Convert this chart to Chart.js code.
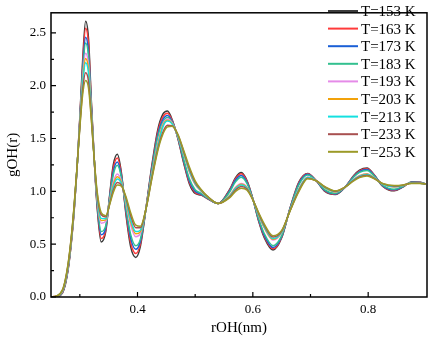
<!DOCTYPE html>
<html>
<head>
<meta charset="utf-8">
<script src="https://cdn.jsdelivr.net/npm/chart.js@4/dist/chart.umd.min.js"></script>
<style>
body { margin: 0; background: #fff; }
#wrap { width: 429px; height: 341px; }
</style>
</head>
<body>
<div id="wrap"><canvas id="gohChart"></canvas></div>
<script>
let rOH = [0.25, 0.26, 0.27, 0.275, 0.28, 0.285, 0.29, 0.295, 0.30, 0.305, 0.31, 0.315, 0.32, 0.325, 0.33,
	0.337, 0.345, 0.352, 0.358, 0.365, 0.372, 0.38, 0.388, 0.397, 0.405, 0.415, 0.425, 0.435,
	0.444, 0.452, 0.46, 0.47, 0.48, 0.49, 0.50, 0.51, 0.52, 0.54, 0.56, 0.57, 0.58, 0.59, 0.60,
	0.61, 0.62, 0.635, 0.65, 0.665, 0.68, 0.695, 0.71, 0.725, 0.743, 0.76, 0.775, 0.785, 0.798,
	0.81, 0.825, 0.845, 0.86, 0.875, 0.89, 0.90];

let g153 = [0, 0.003, 0.04, 0.12, 0.27, 0.5, 0.8, 1.2, 1.7, 2.25, 2.61, 2.45, 1.85, 1.3, 0.85,
	0.52, 0.62, 0.98, 1.25, 1.35, 1.18, 0.78, 0.48, 0.375, 0.48, 0.85, 1.25, 1.58,
	1.73, 1.76, 1.68, 1.50, 1.27, 1.07, 0.98, 0.965, 0.935, 0.885, 1.02, 1.13, 1.178, 1.10, 0.93,
	0.72, 0.56, 0.445, 0.56, 0.85, 1.09, 1.17, 1.10, 1.0, 0.97, 1.04, 1.15, 1.2, 1.22,
	1.16, 1.05, 1.005, 1.04, 1.088, 1.085, 1.07];
let g163 = [0, 0.004, 0.044, 0.126, 0.277, 0.507, 0.807, 1.2, 1.688, 2.21, 2.543, 2.394, 1.828, 1.3, 0.868,
	0.554, 0.638, 0.968, 1.219, 1.315, 1.164, 0.80, 0.518, 0.412, 0.503, 0.849, 1.234, 1.556,
	1.705, 1.74, 1.672, 1.505, 1.28, 1.083, 0.99, 0.969, 0.937, 0.885, 1.014, 1.12, 1.166, 1.093, 0.929,
	0.726, 0.57, 0.456, 0.566, 0.848, 1.083, 1.166, 1.10, 1.004, 0.973, 1.04, 1.146, 1.194, 1.214,
	1.157, 1.052, 1.009, 1.042, 1.087, 1.084, 1.07];
let g173 = [0.001, 0.005, 0.048, 0.134, 0.286, 0.516, 0.816, 1.205, 1.673, 2.161, 2.459, 2.323, 1.801, 1.3, 0.89,
	0.59, 0.658, 0.955, 1.185, 1.277, 1.147, 0.823, 0.56, 0.451, 0.528, 0.847, 1.217, 1.53,
	1.679, 1.719, 1.662, 1.511, 1.292, 1.099, 1.002, 0.975, 0.94, 0.885, 1.006, 1.107, 1.151, 1.084, 0.928,
	0.734, 0.583, 0.469, 0.573, 0.845, 1.074, 1.161, 1.10, 1.008, 0.976, 1.04, 1.141, 1.187, 1.206,
	1.153, 1.055, 1.014, 1.044, 1.086, 1.083, 1.07];
let g183 = [0.001, 0.006, 0.051, 0.139, 0.292, 0.522, 0.822, 1.207, 1.663, 2.128, 2.403, 2.276, 1.783, 1.3, 0.906,
	0.621, 0.674, 0.944, 1.156, 1.246, 1.133, 0.841, 0.595, 0.485, 0.548, 0.846, 1.203, 1.508,
	1.654, 1.70, 1.654, 1.516, 1.306, 1.118, 1.016, 0.982, 0.943, 0.885, 0.996, 1.091, 1.134, 1.073, 0.927,
	0.744, 0.599, 0.486, 0.581, 0.841, 1.063, 1.155, 1.10, 1.014, 0.981, 1.04, 1.135, 1.179, 1.197,
	1.148, 1.058, 1.02, 1.046, 1.084, 1.082, 1.07];
let g193 = [0.001, 0.007, 0.056, 0.147, 0.302, 0.532, 0.832, 1.211, 1.646, 2.072, 2.308, 2.196, 1.753, 1.3, 0.931,
	0.699, 0.716, 0.916, 1.084, 1.164, 1.097, 0.889, 0.685, 0.57, 0.602, 0.844, 1.167, 1.452,
	1.635, 1.685, 1.647, 1.52, 1.354, 1.182, 1.064, 1.004, 0.953, 0.885, 0.964, 1.039, 1.074, 1.037, 0.923,
	0.776, 0.651, 0.54, 0.609, 0.829, 1.027, 1.135, 1.10, 1.032, 0.995, 1.04, 1.115, 1.151, 1.167,
	1.132, 1.068, 1.04, 1.054, 1.079, 1.078, 1.07];
let g203 = [0.001, 0.007, 0.059, 0.152, 0.308, 0.538, 0.838, 1.213, 1.637, 2.042, 2.257, 2.154, 1.737, 1.3, 0.945,
	0.724, 0.73, 0.907, 1.06, 1.138, 1.085, 0.904, 0.714, 0.598, 0.619, 0.843, 1.155, 1.434,
	1.622, 1.674, 1.643, 1.523, 1.36, 1.19, 1.07, 1.006, 0.954, 0.885, 0.96, 1.032, 1.067, 1.032, 0.922,
	0.78, 0.658, 0.546, 0.613, 0.827, 1.022, 1.132, 1.10, 1.034, 0.996, 1.04, 1.112, 1.147, 1.164,
	1.13, 1.069, 1.043, 1.055, 1.078, 1.077, 1.07];
let g213 = [0.001, 0.008, 0.061, 0.155, 0.312, 0.542, 0.842, 1.214, 1.63, 2.019, 2.218, 2.121, 1.724, 1.3, 0.955,
	0.744, 0.74, 0.90, 1.042, 1.118, 1.076, 0.916, 0.736, 0.619, 0.632, 0.842, 1.146, 1.42,
	1.61, 1.665, 1.639, 1.525, 1.366, 1.198, 1.076, 1.009, 0.955, 0.885, 0.956, 1.026, 1.06, 1.028, 0.922,
	0.784, 0.664, 0.553, 0.616, 0.826, 1.018, 1.13, 1.10, 1.036, 0.998, 1.04, 1.11, 1.144, 1.16,
	1.128, 1.07, 1.045, 1.056, 1.078, 1.077, 1.07];
let g233 = [0.002, 0.009, 0.066, 0.164, 0.322, 0.552, 0.852, 1.217, 1.613, 1.963, 2.123, 2.041, 1.693, 1.3, 0.98,
	0.778, 0.758, 0.888, 1.011, 1.083, 1.06, 0.936, 0.774, 0.656, 0.655, 0.841, 1.13, 1.396,
	1.559, 1.625, 1.621, 1.536, 1.378, 1.214, 1.088, 1.015, 0.958, 0.885, 0.948, 1.013, 1.045, 1.019, 0.921,
	0.792, 0.677, 0.567, 0.623, 0.823, 1.009, 1.125, 1.10, 1.041, 1.002, 1.04, 1.105, 1.137, 1.152,
	1.124, 1.073, 1.05, 1.058, 1.076, 1.076, 1.07];
let g253 = [0.002, 0.01, 0.07, 0.17, 0.33, 0.56, 0.86, 1.22, 1.6, 1.92, 2.05, 1.98, 1.67, 1.3, 1.0,
	0.8, 0.77, 0.88, 0.99, 1.06, 1.05, 0.95, 0.8, 0.68, 0.67, 0.84, 1.12, 1.38,
	1.54, 1.61, 1.615, 1.54, 1.39, 1.23, 1.1, 1.02, 0.96, 0.885, 0.94, 1.0, 1.03, 1.01, 0.92,
	0.80, 0.69, 0.58, 0.63, 0.82, 1.0, 1.12, 1.10, 1.045, 1.005, 1.04, 1.10, 1.13, 1.145,
	1.12, 1.075, 1.055, 1.06, 1.075, 1.075, 1.07];

let seriesNames = ['T=153 K', 'T=163 K', 'T=173 K', 'T=183 K', 'T=193 K', 'T=203 K', 'T=213 K', 'T=233 K', 'T=253 K'];
let seriesValues = [g153, g163, g173, g183, g193, g203, g213, g233, g253];
let seriesColors = ['#3c3c3c', '#ff3a3a', '#1a5fd6', '#33c08f', '#e58be8', '#f2a20a', '#14e0e0', '#a85050', '#9c9a28'];

let xTicks = [0.4, 0.6, 0.8];
let xMinor = [0.3, 0.5, 0.7];
let yTicks = [0, 0.5, 1.0, 1.5, 2.0, 2.5];
let yMinor = [0.25, 0.75, 1.25, 1.75, 2.25];

const serif = 'Liberation Serif';

// frame + inward ticks like Origin
const framePlugin = {
	id: 'frame',
	afterDatasetsDraw(chart) {
		const ctx = chart.ctx;
		const a = chart.chartArea;
		const xs = chart.scales.x, ys = chart.scales.y;
		ctx.save();
		ctx.strokeStyle = '#000';
		ctx.lineWidth = 1.5;
		ctx.strokeRect(a.left, a.top, a.right - a.left, a.bottom - a.top);
		ctx.lineWidth = 1.2;
		ctx.beginPath();
		xTicks.forEach(v => { const p = xs.getPixelForValue(v); ctx.moveTo(p, a.bottom); ctx.lineTo(p, a.bottom - 5); });
		xMinor.forEach(v => { const p = xs.getPixelForValue(v); ctx.moveTo(p, a.bottom); ctx.lineTo(p, a.bottom - 3); });
		yTicks.forEach(v => { const p = ys.getPixelForValue(v); ctx.moveTo(a.left, p); ctx.lineTo(a.left + 5, p); });
		yMinor.forEach(v => { const p = ys.getPixelForValue(v); ctx.moveTo(a.left, p); ctx.lineTo(a.left + 3, p); });
		ctx.stroke();
		ctx.restore();
	}
};

// legend in the top right corner
const legendPlugin = {
	id: 'cornerLegend',
	afterDraw(chart) {
		const ctx = chart.ctx;
		ctx.save();
		ctx.font = '15px "' + serif + '"';
		ctx.textBaseline = 'middle';
		ctx.textAlign = 'left';
		chart.data.datasets.forEach((ds, i) => {
			const y = 11 + i * 17.6;
			ctx.strokeStyle = ds.borderColor;
			ctx.lineWidth = 2;
			ctx.beginPath();
			ctx.moveTo(328, y);
			ctx.lineTo(358, y);
			ctx.stroke();
			ctx.fillStyle = '#000';
			ctx.fillText(ds.label, 361, y + 1);
		});
		ctx.restore();
	}
};

var ctx = document.getElementById('gohChart').getContext('2d');
var gohChart = new Chart(ctx, {
	type: 'line',
	data: {
		datasets: seriesNames.map((name, i) => ({
			label: name,
			data: rOH.map((r, k) => ({ x: r, y: seriesValues[i][k] })),
			borderColor: seriesColors[i],
			borderWidth: 1.5,
			pointRadius: 0,
			cubicInterpolationMode: 'monotone',
			order: 8 - i
		}))
	},
	options: {
		responsive: true,
		maintainAspectRatio: false,
		animation: false,
		layout: { padding: { left: 0, top: 3, right: 2, bottom: 0 } },
		plugins: {
			legend: { display: false },
			tooltip: { enabled: false }
		},
		scales: {
			x: {
				type: 'linear',
				min: 0.25,
				max: 0.902,
				grid: { display: false, drawTicks: false },
				border: { display: false },
				afterBuildTicks: s => { s.ticks = xTicks.map(v => ({ value: v })); },
				afterFit: s => { s.height = 44; },
				ticks: {
					padding: 5,
					color: '#000',
					font: { family: serif, size: 13 },
					callback: v => v.toFixed(1)
				},
				title: {
					display: true,
					text: 'rOH(nm)',
					color: '#000',
					font: { family: serif, size: 15 },
					padding: { top: 0, bottom: 4 }
				}
			},
			y: {
				min: 0,
				max: 2.69,
				grid: { display: false, drawTicks: false },
				border: { display: false },
				afterBuildTicks: s => { s.ticks = yTicks.map(v => ({ value: v })); },
				afterFit: s => { s.width = 51; },
				ticks: {
					padding: 5,
					color: '#000',
					font: { family: serif, size: 13 },
					callback: v => v.toFixed(1)
				},
				title: {
					display: true,
					text: 'gOH(r)',
					color: '#000',
					font: { family: serif, size: 15 },
					padding: { top: 4, bottom: 0 }
				}
			}
		}
	},
	plugins: [framePlugin, legendPlugin]
});
</script>
</body>
</html>
